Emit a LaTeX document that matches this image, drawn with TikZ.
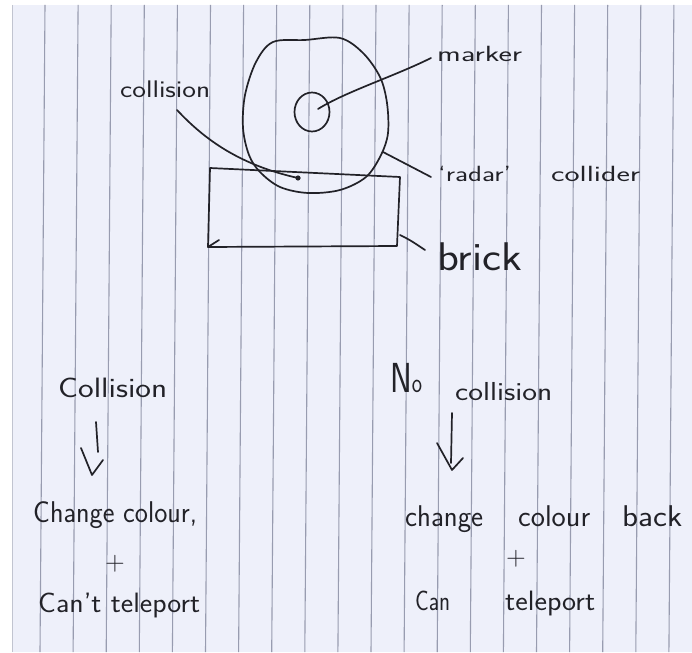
\documentclass[tikz,border=0pt]{standalone}
\usepackage{fontspec}
\usepackage{graphicx}
\usetikzlibrary{shapes.geometric}
\definecolor{paper}{RGB}{238,240,250}
\definecolor{rulecol}{RGB}{152,156,176}
\definecolor{ink}{RGB}{34,34,40}
\newcommand{\hw}[3]{\resizebox{#1pt}{\height}{\sffamily\fontsize{#2}{#2}\selectfont #3}}
\begin{document}
\begin{tikzpicture}[x=1pt,y=-1pt,
  inkline/.style={draw=ink,line width=1.7pt,line cap=round,line join=round},
  lbl/.style={inner sep=0pt,anchor=base west,text=ink},
  plusmark/.style={inner sep=0pt,anchor=center,text=ink,font=\sffamily\fontsize{27}{27}\selectfont}]
\useasboundingbox (0,0) rectangle (692,652);
\fill[white] (0,0) rectangle (692,652);
\fill[paper] (12,5) rectangle (692,652);
\foreach \k in {0,...,19} {\draw[rulecol,line width=1.1pt] ({45+33.1*\k},5) -- ({40+33.1*\k},652);}
\draw[rulecol!60,line width=0.8pt] (12,5) -- (12,652);

% radar collider (big circle)
\draw[inkline] plot[smooth cycle,tension=0.55] coordinates {(273,42) (305,40) (340,38) (363,53) (380,77) (387,103) (388,133) (381,155) (366,177) (340,190) (308,193) (280,187) (260,172) (249,155) (243,128) (245,95) (256,62)};
% marker (small circle)
\node[inkline,ellipse,minimum width=35pt,minimum height=39pt,inner sep=0pt] (mk) at (312,112) {};
% brick
\coordinate (b1) at (210,168);
\coordinate (b2) at (400,177);
\coordinate (b3) at (397,246);
\coordinate (b4) at (208,247);
\draw[inkline] (b1) -- (b2) -- (b3) -- (b4) -- cycle;
\coordinate (bhook) at (219,240);
\draw[inkline] (b4) -- (bhook);

% labels
\node[lbl] (lcol) at (120,98) {\hw{90}{24}{collision}};
\node[lbl] (lmark) at (437,62) {\hw{85}{22}{marker}};
\node[lbl] (lradar) at (438,182) {\hw{73}{22}{`radar'}\hspace{40pt}\hw{89}{22}{collider}};
\node[lbl] (lbrick) at (437,270) {\hw{85}{40}{brick}};

% leaders
\coordinate (mkin) at (318,109);
\coordinate (mkend) at (431,58);
\draw[inkline] (mkin) .. controls (345,92) and (395,76) .. (mkend);
\coordinate (colS) at (177,110);
\coordinate (colE) at (298,178);
\draw[inkline] (colS) .. controls (205,140) and (240,165) .. (colE);
\fill[ink] (colE) circle (2.6pt);
\coordinate (rcS) at (383,152);
\coordinate (rcE) at (431,177);
\draw[inkline] (rcS) -- (rcE);
\coordinate (brS) at (400,235);
\coordinate (brE) at (425,250);
\draw[inkline] (brS) .. controls (410,240) .. (brE);

% left column
\node[lbl] (c1) at (58,397) {\hw{109}{28}{Collision}};
\coordinate (a1s) at (96,422);
\coordinate (a1e) at (98,452);
\coordinate (a1l) at (81,448);
\coordinate (a1t) at (92,475);
\coordinate (a1r) at (103,460);
\draw[inkline] (a1s) -- (a1e);
\draw[inkline] (a1l) -- (a1t) -- (a1r);
\node[lbl] (c2) at (33,522) {\hw{164}{30}{Change colour,}};
\node[plusmark] (p1) at (115,564) {+};
\node[lbl] (c3) at (38,612) {\hw{162}{28}{Can't teleport}};

% right column
\node[lbl] (n1) at (390,392) {\hw{32}{28}{{\fontsize{42}{42}\selectfont N}o}\hspace{33pt}\raisebox{-8pt}{\hw{97}{26}{collision}}};
\coordinate (a2s) at (452,413);
\coordinate (a2e) at (451,463);
\coordinate (a2l) at (437,443);
\coordinate (a2t) at (452,470);
\coordinate (a2r) at (463,458);
\draw[inkline] (a2s) -- (a2e);
\draw[inkline] (a2l) -- (a2t) -- (a2r);
\node[lbl] (n2) at (405,526) {\hw{78}{30}{change}\hspace{35pt}\hw{72}{30}{colour}\hspace{32pt}\hw{60}{30}{back}};
\node[plusmark] (p2) at (516,559) {+};
\node[lbl] (n3) at (415,610) {\hw{35}{28}{Can}\hspace{55pt}\hw{90}{28}{teleport}};
\end{tikzpicture}
\end{document}
